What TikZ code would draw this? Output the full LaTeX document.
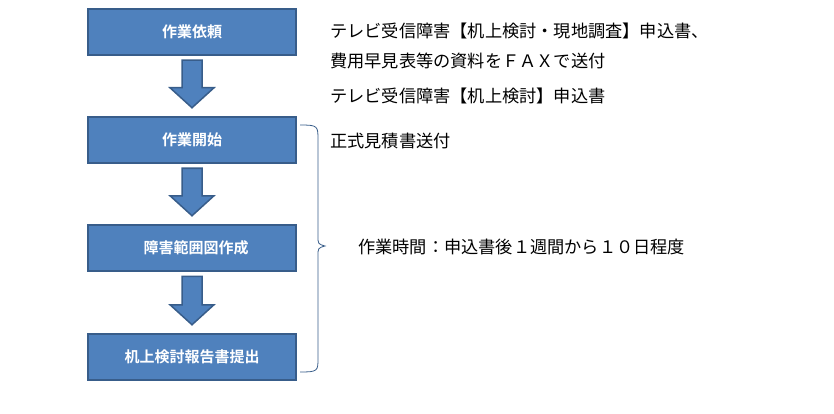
\documentclass[tikz,border=0pt]{standalone}
\usepackage{fontspec}
\newfontfamily\jpb{Noto Sans CJK JP Bold}
\newfontfamily\jp{Noto Sans CJK JP}
\definecolor{fillb}{HTML}{4F81BD}
\definecolor{edgeb}{HTML}{385D8A}
\begin{document}
\begin{tikzpicture}[x=1pt,y=-1pt,
  stepbox/.style={draw=edgeb,fill=fillb,line width=2.5pt,minimum width=208pt,minimum height=46pt,text=white,font=\jpb\fontsize{15}{17}\selectfont},
  note/.style={anchor=west,font=\jp\fontsize{17.2}{19}\selectfont,inner sep=0pt},
  bigarrow/.style={draw=edgeb,fill=fillb,line width=1.5pt,line join=miter}]
\useasboundingbox (0,0) rectangle (834,414);
\node[stepbox] (b1) at (192,32) {作業依頼};
\node[stepbox] (b2) at (192,140) {作業開始};
\node[stepbox] (b3) at (192,248) {\hspace{8pt}障害範囲図作成};
\node[stepbox] (b4) at (192,357) {机上検討報告書提出};
\foreach \a/\b in {b1/b2,b2/b3,b3/b4}{
  \path (\a.south) ++(0,4) coordinate (s);
  \path (\b.north) ++(0,-8) coordinate (t);
  \draw[bigarrow] ([xshift=-10]s) -- ([xshift=10]s) -- ([xshift=10,yshift=20]t) -- ([xshift=22,yshift=20]t) -- (t) -- ([xshift=-22,yshift=20]t) -- ([xshift=-10,yshift=20]t) -- cycle;
}
\node[note] (t1) at (330,31) {テレビ受信障害【机上検討・現地調査】申込書、};
\node[note] (t2) at (330,61) {費用早見表等の資料をＦＡＸで送付};
\node[note] (t3) at (330,96) {テレビ受信障害【机上検討】申込書};
\node[note] (t4) at (330,141) {正式見積書送付};
\node[note] (t5) at (358,247) {作業時間：申込書後１週間から１０日程度};
\coordinate (br1) at (300,125);
\coordinate (br2) at (300,372);
\coordinate (tip) at (325,246);
\draw[edgeb,line width=0.8pt] (br1) .. controls (318,125) and (318,126) .. (318,140) -- (318,236) .. controls (318,244) .. (tip) .. controls (318,248) .. (318,256) -- (318,358) .. controls (318,371) and (318,372) .. (br2);
\end{tikzpicture}
\end{document}
